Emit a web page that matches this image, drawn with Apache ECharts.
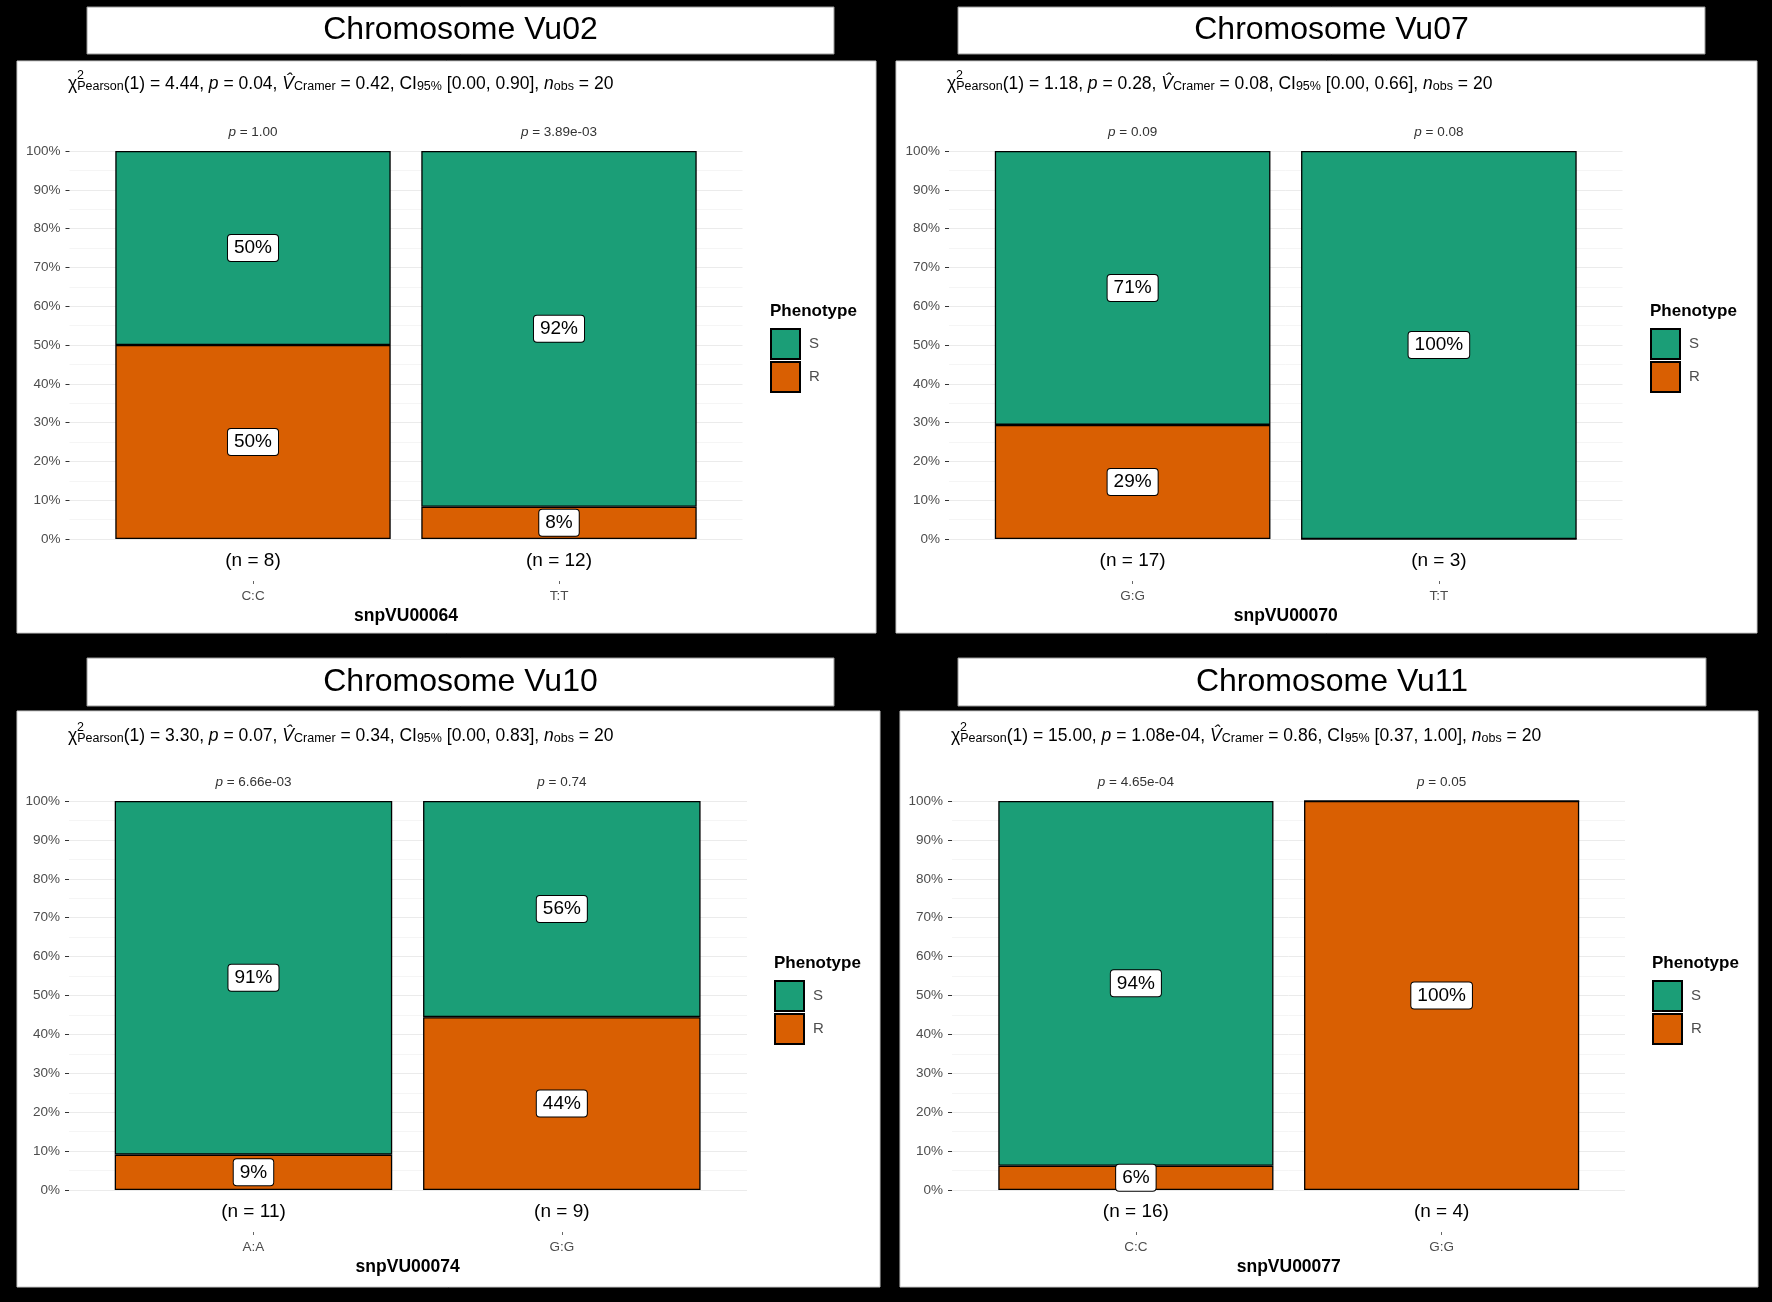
<!DOCTYPE html>
<html>
<head>
<meta charset="utf-8">
<script src="https://cdn.jsdelivr.net/npm/echarts@6/dist/echarts.min.js"></script>
<style>
html,body{margin:0;padding:0;background:#000;}
#c{width:1772px;height:1302px;}
</style>
</head>
<body>
<div id="c"></div>
<script>
// ---- data ----
const chromosomes = ['Chromosome Vu02', 'Chromosome Vu07', 'Chromosome Vu10', 'Chromosome Vu11'];
const snps = ['snpVU00064', 'snpVU00070', 'snpVU00074', 'snpVU00077'];
const genotypes = [['C:C', 'T:T'], ['G:G', 'T:T'], ['A:A', 'G:G'], ['C:C', 'G:G']];
const sizes = [[8, 12], [17, 3], [11, 9], [16, 4]];
const pctS = [[50, 91.67], [70.59, 100], [90.91, 55.56], [93.75, 0]];
const pctR = [[50, 8.33], [29.41, 0], [9.09, 44.44], [6.25, 100]];
const pLabels = [['1.00', '3.89e-03'], ['0.09', '0.08'], ['6.66e-03', '0.74'], ['4.65e-04', '0.05']];
const chiSq = ['4.44', '1.18', '3.30', '15.00'];
const pValue = ['0.04', '0.28', '0.07', '1.08e-04'];
const cramerV = ['0.42', '0.08', '0.34', '0.86'];
const ci95 = [['0.00', '0.90'], ['0.00', '0.66'], ['0.00', '0.83'], ['0.37', '1.00']];
const nObs = [20, 20, 20, 20];
const phenotypes = ['S', 'R'];
const yTickLabels = ['0%', '10%', '20%', '30%', '40%', '50%', '60%', '70%', '80%', '90%', '100%'];

// ---- layout (pixels) ----
const layout = [
  {panel: [17, 61, 859, 572], title: [87, 7, 747, 47], wide: [69.5, 742.5], narrow: [100, 712], top: 151, bottom: 539, legend: [770, 311], sub: 85},
  {panel: [896, 61, 861, 572], title: [958, 7, 747, 47], wide: [949, 1622.5], narrow: [979.5, 1592], top: 151, bottom: 539, legend: [1650, 311], sub: 85},
  {panel: [17, 711, 863, 576], title: [87, 658, 747, 48], wide: [69, 747], narrow: [99.3, 716], top: 801, bottom: 1190, legend: [774, 963], sub: 737},
  {panel: [900, 711, 858, 576], title: [958, 658, 748, 48], wide: [952, 1625], narrow: [983, 1594.5], top: 801, bottom: 1190, legend: [1652, 963], sub: 737}
];

const FONT = "'Liberation Sans', Arial, Helvetica, sans-serif";
const GREEN = '#1b9e77', ORANGE = '#d95f02';

const option = {
  backgroundColor: '#000',
  animation: false,
  textStyle: {fontFamily: FONT},
  grid: [], xAxis: [], yAxis: [], series: [], legend: [], graphic: []
};

const barLabel = {
  show: true, position: 'inside',
  formatter: p => Math.round(p.value) + '%',
  fontSize: 19, color: '#000', fontFamily: FONT,
  backgroundColor: '#fff', borderColor: '#000', borderWidth: 1, borderRadius: 3,
  padding: [4, 6, 3, 6]
};
const mk = vals => vals.map(v => v > 0 ? {value: v} : {value: v, label: {show: false}});

layout.forEach((L, i) => {
  const [px, py, pw, ph] = L.panel;
  const [tx, ty, tw, th] = L.title;
  option.graphic.push({type: 'rect', z: -10, silent: true, shape: {x: px, y: py, width: pw, height: ph}, style: {fill: '#fff', stroke: '#c8c8c8', lineWidth: 1}});
  option.graphic.push({type: 'rect', z: -10, silent: true, shape: {x: tx, y: ty, width: tw, height: th}, style: {fill: '#fff', stroke: '#999', lineWidth: 1}});
  option.graphic.push({type: 'text', z: 10, silent: true, x: tx + tw / 2, y: ty + th / 2,
    style: {text: chromosomes[i], fontSize: 32, fontFamily: FONT, fill: '#000', align: 'center', verticalAlign: 'middle', textAlign: 'center', textVerticalAlign: 'middle'}});

  // subtitle
  const m = {fontSize: 17.5, lineHeight: 20, verticalAlign: 'top', fill: '#000', fontFamily: FONT};
  const it = Object.assign({}, m, {fontStyle: 'italic'});
  const sb = {fontSize: 12.5, lineHeight: 20, padding: [5, 0, 0, 0], verticalAlign: 'top', fill: '#000', fontFamily: FONT};
  const subText = `{m|χ}{s|Pearson}{m|(1) = ${chiSq[i]}, }{i|p}{m| = ${pValue[i]}, }{i|V̂}{s|Cramer}{m| = ${cramerV[i]}, CI}{s|95%}{m| [${ci95[i][0]}, ${ci95[i][1]}], }{i|n}{s|obs}{m| = ${nObs[i]}}`;
  option.graphic.push({type: 'text', z: 10, silent: true, x: px + 51, y: L.sub - 10,
    style: {text: subText, rich: {m: m, i: it, s: sb}, fontSize: 17.5, fontFamily: FONT, fill: '#000', align: 'left', verticalAlign: 'top', textAlign: 'left', textVerticalAlign: 'top'}});
  option.graphic.push({type: 'text', z: 10, silent: true, x: px + 60, y: L.sub - 9,
    style: {text: '2', fontSize: 12.5, fontFamily: FONT, fill: '#000', align: 'left', verticalAlign: 'middle', textAlign: 'left', textVerticalAlign: 'middle'}});

  // legend title
  option.graphic.push({type: 'text', z: 10, silent: true, x: L.legend[0], y: L.legend[1],
    style: {text: 'Phenotype', fontSize: 17, fontWeight: 'bold', fontFamily: FONT, fill: '#000', align: 'left', verticalAlign: 'middle', textAlign: 'left', textVerticalAlign: 'middle'}});

  const gw = 2 * i, gn = 2 * i + 1;
  const h = L.bottom - L.top;
  option.grid.push({left: L.wide[0], top: L.top, width: L.wide[1] - L.wide[0], height: h});
  option.grid.push({left: L.narrow[0], top: L.top, width: L.narrow[1] - L.narrow[0], height: h});

  option.xAxis.push({gridIndex: gw, type: 'value', min: 0, max: 1, show: false});
  option.xAxis.push({gridIndex: gn, type: 'category', data: sizes[i].map(n => `(n = ${n})`), position: 'bottom',
    axisLine: {show: false}, axisTick: {show: false}, axisLabel: {fontSize: 19, color: '#000', margin: 12}});
  option.xAxis.push({gridIndex: gn, type: 'category', data: genotypes[i], position: 'bottom', offset: 42,
    axisLine: {show: false}, axisTick: {show: true, alignWithLabel: true, length: 3, lineStyle: {color: '#666'}},
    axisLabel: {fontSize: 13.5, color: '#4d4d4d', margin: 8},
    name: snps[i], nameLocation: 'middle', nameGap: 26,
    nameTextStyle: {fontSize: 17.5, fontWeight: 'bold', color: '#000'}});
  option.xAxis.push({gridIndex: gn, type: 'category', data: pLabels[i].map(v => `{i|p} = ${v}`), position: 'top',
    axisLine: {show: false}, axisTick: {show: false},
    axisLabel: {fontSize: 13.5, color: '#333', margin: 12, rich: {i: {fontStyle: 'italic', fontSize: 13.5, color: '#333'}}}});

  option.yAxis.push({gridIndex: gw, type: 'value', min: 0, max: 100, interval: 10,
    axisLine: {show: false}, axisTick: {show: true, length: 4, lineStyle: {color: '#333'}},
    axisLabel: {formatter: v => yTickLabels[Math.round(v / 10)], fontSize: 13.5, color: '#4d4d4d', margin: 9},
    splitLine: {show: true, lineStyle: {color: '#ebebeb', width: 1}},
    minorTick: {show: false, splitNumber: 2},
    minorSplitLine: {show: true, lineStyle: {color: '#f5f5f5', width: 1}}});
  option.yAxis.push({gridIndex: gn, type: 'value', min: 0, max: 100, show: false});

  option.series.push({type: 'bar', name: phenotypes[1], xAxisIndex: 4 * i + 1, yAxisIndex: gn, stack: 'st' + i, barWidth: '90%',
    data: mk(pctR[i]), itemStyle: {color: ORANGE, borderColor: '#000', borderWidth: 1.3}, label: barLabel});
  option.series.push({type: 'bar', name: phenotypes[0], xAxisIndex: 4 * i + 1, yAxisIndex: gn, stack: 'st' + i, barWidth: '90%',
    data: mk(pctS[i]), itemStyle: {color: GREEN, borderColor: '#000', borderWidth: 1.3}, label: barLabel});

  option.legend.push({left: L.legend[0], top: L.legend[1] + 17, orient: 'vertical', padding: 0,
    itemWidth: 29, itemHeight: 30, itemGap: 1, icon: 'rect', selectedMode: false, data: phenotypes,
    itemStyle: {borderColor: '#000', borderWidth: 2},
    textStyle: {fontSize: 15, color: '#4d4d4d', padding: [0, 0, 0, 4]}});
});

const chart = echarts.init(document.getElementById('c'));
chart.setOption(option);
</script>
</body>
</html>
